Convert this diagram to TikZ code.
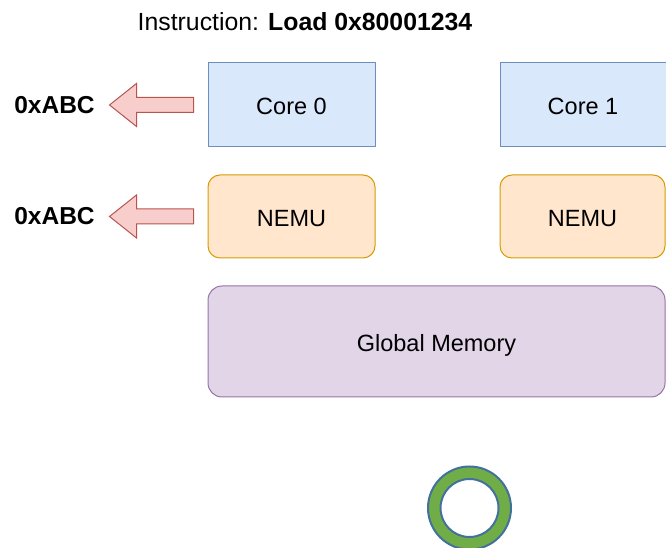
\documentclass[tikz,border=0pt]{standalone}
\usepackage{fontspec}
\setmainfont{Liberation Sans}
\usetikzlibrary{positioning}

\definecolor{coreFill}{HTML}{DAE8FC}
\definecolor{coreLine}{HTML}{6C8EBF}
\definecolor{nemuFill}{HTML}{FFE6CC}
\definecolor{nemuLine}{HTML}{D79B00}
\definecolor{memFill}{HTML}{E1D5E7}
\definecolor{memLine}{HTML}{9673A6}
\definecolor{arrFill}{HTML}{F8CECC}
\definecolor{arrLine}{HTML}{B85450}
\definecolor{ringFill}{HTML}{70AD47}
\definecolor{ringLine}{HTML}{41719C}

\tikzset{
  boxtext/.style={font=\fontsize{23.5}{28}\selectfont,text height=20pt,text depth=0pt},
  corebox/.style={boxtext,draw=coreLine,fill=coreFill,line width=1pt,minimum width=167,minimum height=84},
  nemubox/.style={boxtext,draw=nemuLine,fill=nemuFill,line width=1pt,rounded corners=12,minimum width=167,minimum height=83},
  membox/.style={boxtext,draw=memLine,fill=memFill,line width=1pt,rounded corners=14,minimum width=457,minimum height=111},
  valtext/.style={font=\fontsize{24.5}{29}\selectfont\bfseries},
  blockarrow/.style={draw=arrLine,fill=arrFill,line width=1pt,line join=miter}
}

\begin{document}
\begin{tikzpicture}[line cap=round,line join=round,x=1pt,y=1pt]
\useasboundingbox (0,0) rectangle (666,548);
\node[inner sep=0] (title) at (305,526) {\fontsize{24.8}{29}\selectfont Instruction: \textbf{Load 0x80001234}};
\node[corebox] (core0) at (291.5,443) {Core 0};
\node[corebox,minimum width=166] (core1) at (583,443) {Core 1};
\node[nemubox] (nemu0) at (291.5,331.5) {NEMU};
\node[nemubox,minimum width=165] (nemu1) at (582.5,331.5) {NEMU};
\node[membox] (mem) at (436.5,206.5) {Global Memory};
% block arrows going out to the left
\draw[blockarrow] ([xshift=-14]core0.west) -- ++(0,7.5) -- ++(-57,0) -- ++(0,14) -- ++(-27,-21.5) -- ++(27,-21.5) -- ++(0,14) -- ++(57,0) -- cycle;
\draw[blockarrow] ([xshift=-14]nemu0.west) -- ++(0,7.5) -- ++(-57,0) -- ++(0,14) -- ++(-27,-21.5) -- ++(27,-21.5) -- ++(0,14) -- ++(57,0) -- cycle;
\node[valtext] (val0) at (54.5,443) {0xABC};
\node[valtext] (val1) at (54.5,332) {0xABC};
% ring
\fill[ringFill,even odd rule] (469.5,40) circle (41.5) (469.5,40) circle (29);
\draw[ringLine,line width=2pt] (469.5,40) circle (41.5) (469.5,40) circle (29);
\end{tikzpicture}
\end{document}
